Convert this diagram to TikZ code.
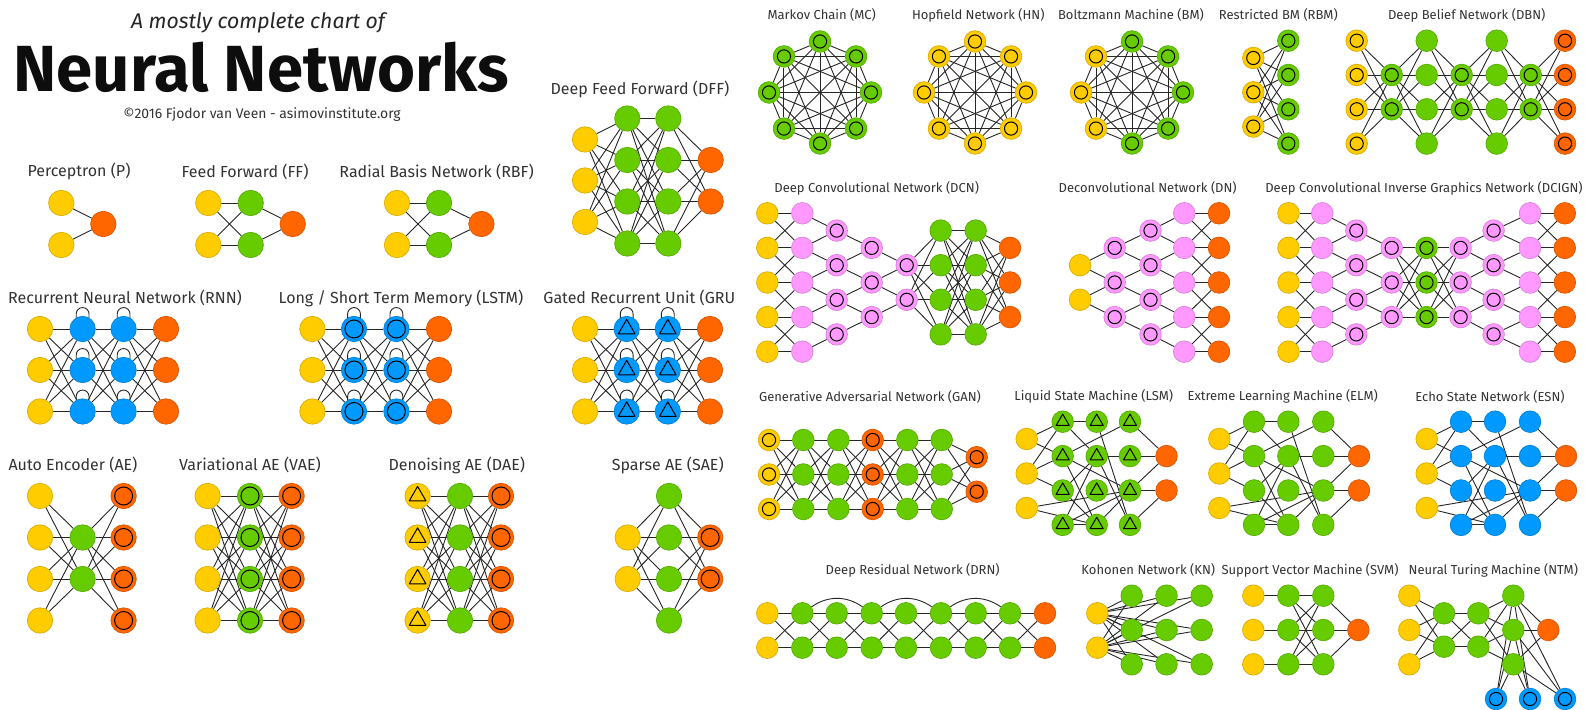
\documentclass[tikz,border=0pt]{standalone}
\usepackage{fontspec}
\setmainfont{Fira Sans}
\usetikzlibrary{calc}
\definecolor{InputClr}{RGB}{255,204,0}
\definecolor{HiddenClr}{RGB}{102,204,0}
\definecolor{OutputClr}{RGB}{255,102,0}
\definecolor{RecurrentClr}{RGB}{0,153,255}
\definecolor{KernelClr}{RGB}{255,153,255}
\pgfdeclarelayer{background}
\pgfsetlayers{background,main}

\def\cellsize{12.7pt}
\def\ringsize{4.5pt}
\def\trisize{4.8pt}

\tikzset{
  cell/.style={circle,inner sep=0pt,minimum size=\cellsize,line width=0.35pt},
  inputcell/.style={cell,fill=InputClr,draw=InputClr!85!black},
  hiddencell/.style={cell,fill=HiddenClr,draw=HiddenClr!85!black},
  outputcell/.style={cell,fill=OutputClr,draw=OutputClr!85!black},
  recurrentcell/.style={cell,fill=RecurrentClr,draw=RecurrentClr!85!black},
  kernelcell/.style={cell,fill=KernelClr,draw=KernelClr!85!black},
  ring/.style={path picture={\draw[black,line width=0.5pt]
      (path picture bounding box.center) circle (\ringsize);}},
  noisy/.style={path picture={\draw[black,line width=0.5pt,line join=round,
      shift={(path picture bounding box.center)}]
      (90:\trisize) -- (210:\trisize) -- (330:\trisize) -- cycle;}},
  link/.style={draw=black!85,line width=0.45pt},
  netname/.style={font=\fontsize{6.5}{7.5}\selectfont,text=black!80,inner sep=0pt},
  bignetname/.style={netname,font=\fontsize{8}{9}\selectfont}
}

% a column of cells: name, x, y list, style
\newcommand{\cells}[4]{%
  \foreach \yy [count=\k] in {#3} \node[#4] (#1-\k) at (#2,\yy) {};}
% every cell of one column to every cell of the next
\newcommand{\linkall}[4]{%
  \foreach \i in {1,...,#2}{\foreach \j in {1,...,#4}{\draw[link] (#1-\i) -- (#3-\j);}}}
% cell j of the narrow column to cells j and j+1 of the wide one
\newcommand{\linkfunnel}[3]{%
  \foreach \j in {1,...,#2}{%
    \pgfmathtruncatemacro{\jn}{\j+1}%
    \draw[link] (#1-\j) -- (#3-\j) (#1-\j) -- (#3-\jn);}}
% straight and crossed links between equal columns
\newcommand{\linknear}[3]{%
  \foreach \i in {1,...,#3}{%
    \draw[link] (#1-\i) -- (#2-\i);
    \ifnum\i<#3 \pgfmathtruncatemacro{\inx}{\i+1}%
      \draw[link] (#1-\i) -- (#2-\inx) (#1-\inx) -- (#2-\i);\fi}}
% all pairs in a ring of cells
\newcommand{\linkclique}[2]{%
  \foreach \i in {1,...,#2}{\foreach \j in {1,...,#2}{%
    \ifnum\i<\j \draw[link] (#1-\i) -- (#1-\j);\fi}}}
\newcommand{\selfloop}[1]{%
  \draw[link] ([xshift=-3.2pt,yshift=-1.5pt]#1.north) -- ++(0,2.5pt)
    arc[start angle=180,end angle=0,radius=3.2pt] -- ++(0,-2.5pt);}
% sparse reservoir wiring (LSM, ELM, ESN)
\newcommand{\reservoir}[1]{%
  \foreach \u/\v in {in-1/a-1,in-1/a-2,in-2/a-1,in-2/a-2,in-2/a-3,in-3/c-3,in-3/b-4,
      a-1/b-1,a-1/b-2,a-2/c-1,a-2/c-3,a-2/b-4,a-3/b-2,a-3/b-4,a-4/b-4,a-4/b-2,a-4/c-3,
      b-1/c-4,b-2/c-2,b-2/c-4,b-4/c-3,c-1/out-1,c-2/out-1,c-3/out-1,c-3/out-2,c-4/out-2}
    {\draw[link] (#1-\u) -- (#1-\v);}}

\begin{document}
\begin{tikzpicture}[x=0.5pt,y=-0.5pt]
\useasboundingbox (0,0) rectangle (1585,710);

% heading
\node[font=\fontsize{10.6}{12}\selectfont\itshape,text=black!85] (chart-sub) at (258,22.7) {A mostly complete chart of};
\node[font=\fontsize{32.6}{33}\selectfont\bfseries,text=black!95] (chart-title) at (261,67) {Neural Networks};
\node[font=\fontsize{6.95}{8}\selectfont,text=black!80] (chart-credit) at (262,115) {©2016 Fjodor van Veen - asimovinstitute.org};

% ---------- left half ----------
\node[bignetname] (lbl-p) at (79,171.7) {Perceptron (P)};
\node[bignetname] (lbl-ff) at (245,171.7) {Feed Forward (FF)};
\node[bignetname] (lbl-rbf) at (436.6,171.7) {Radial Basis Network (RBF)};
\node[bignetname] (lbl-dff) at (640,89) {Deep Feed Forward (DFF)};
\node[bignetname] (lbl-rnn) at (125,298.3) {Recurrent Neural Network (RNN)};
\node[bignetname] (lbl-lstm) at (401,298.3) {Long / Short Term Memory (LSTM)};
\node[bignetname,anchor=west] (lbl-gru) at (543,298.3) {Gated Recurrent Unit (GRU};
\node[bignetname] (lbl-ae) at (73,465) {Auto Encoder (AE)};
\node[bignetname] (lbl-vae) at (250,465) {Variational AE (VAE)};
\node[bignetname] (lbl-dae) at (456.8,465) {Denoising AE (DAE)};
\node[bignetname] (lbl-sae) at (667.8,465) {Sparse AE (SAE)};

\cells{p-in}{61.3}{203,245}{inputcell}
\cells{p-out}{103.3}{224}{outputcell}

\cells{ff-in}{208.3}{203,245}{inputcell}
\cells{ff-h}{250.7}{203,245}{hiddencell}
\cells{ff-out}{292.7}{224}{outputcell}

\cells{rbf-in}{397}{203,245}{inputcell}
\cells{rbf-h}{439}{203,245}{hiddencell}
\cells{rbf-out}{481.4}{224}{outputcell}

\cells{dff-in}{585}{139.5,180.5,222}{inputcell}
\cells{dff-h1}{627.3}{118.5,160,201.5,243.5}{hiddencell}
\cells{dff-h2}{668.3}{118.5,160,201.5,243.5}{hiddencell}
\cells{dff-out}{710.7}{160,201.5}{outputcell}

\cells{rnn-in}{40}{329,370,411.5}{inputcell}
\cells{rnn-h1}{82.6}{329,370,411.5}{recurrentcell}
\cells{rnn-h2}{123.6}{329,370,411.5}{recurrentcell}
\cells{rnn-out}{166}{329,370,411.5}{outputcell}

\cells{lstm-in}{312.4}{329,370,411.5}{inputcell}
\cells{lstm-h1}{354}{329,370,411.5}{recurrentcell,ring}
\cells{lstm-h2}{396.4}{329,370,411.5}{recurrentcell,ring}
\cells{lstm-out}{439}{329,370,411.5}{outputcell}

\cells{gru-in}{585}{329,370,411.5}{inputcell}
\cells{gru-h1}{626.7}{329,370,411.5}{recurrentcell,noisy}
\cells{gru-h2}{667.8}{329,370,411.5}{recurrentcell,noisy}
\cells{gru-out}{710}{329,370,411.5}{outputcell}

\cells{ae-in}{40}{496,537.5,579,620.5}{inputcell}
\cells{ae-h}{82.6}{537.5,579}{hiddencell}
\cells{ae-out}{123.6}{496,537.5,579,620.5}{outputcell,ring}

\cells{vae-in}{207.6}{496,537.5,579,620.5}{inputcell}
\cells{vae-h}{250}{496,537.5,579,620.5}{hiddencell,ring}
\cells{vae-out}{291.6}{496,537.5,579,620.5}{outputcell,ring}

\cells{dae-in}{417.6}{496,537.5,579,620.5}{inputcell,noisy}
\cells{dae-h}{460}{496,537.5,579,620.5}{hiddencell}
\cells{dae-out}{501}{496,537.5,579,620.5}{outputcell,ring}

\cells{sae-in}{627.7}{537.5,579}{inputcell}
\cells{sae-h}{669}{496,537.5,579,620.5}{hiddencell}
\cells{sae-out}{710.2}{537.5,579}{outputcell,ring}

% ---------- right half ----------
\def\cellsize{10.8pt}
\def\ringsize{3.3pt}
\def\trisize{3.8pt}

\node[netname] (lbl-mc) at (821.7,15) {Markov Chain (MC)};
\node[netname] (lbl-hn) at (978.3,15) {Hopfield Network (HN)};
\node[netname] (lbl-bm) at (1131,15) {Boltzmann Machine (BM)};
\node[netname] (lbl-rbm) at (1278.3,15) {Restricted BM (RBM)};
\node[netname] (lbl-dbn) at (1466.7,15) {Deep Belief Network (DBN)};
\node[netname] (lbl-dcn) at (876.7,188.3) {Deep Convolutional Network (DCN)};
\node[netname] (lbl-dn) at (1147.7,188.3) {Deconvolutional Network (DN)};
\node[netname] (lbl-dcign) at (1424,188.3) {Deep Convolutional Inverse Graphics Network (DCIGN)};
\node[netname] (lbl-gan) at (870,396.7) {Generative Adversarial Network (GAN)};
\node[netname] (lbl-lsm) at (1093.7,396.7) {Liquid State Machine (LSM)};
\node[netname] (lbl-elm) at (1282.7,396.7) {Extreme Learning Machine (ELM)};
\node[netname] (lbl-esn) at (1490,396.7) {Echo State Network (ESN)};
\node[netname] (lbl-drn) at (912.7,570) {Deep Residual Network (DRN)};
\node[netname] (lbl-kn) at (1148.3,570) {Kohonen Network (KN)};
\node[netname] (lbl-svm) at (1310,570) {Support Vector Machine (SVM)};
\node[netname] (lbl-ntm) at (1493.3,570) {Neural Turing Machine (NTM)};

% rings of eight
\foreach \a [count=\k] in {-90,-45,0,45,90,135,180,-135}
  \node[hiddencell,ring] (mc-\k) at ($(820,92.5)+(\a:51)$) {};
\foreach \a [count=\k] in {-90,-45,0,45,90,135,180,-135}
  \node[inputcell,ring] (hn-\k) at ($(975,92.5)+(\a:51)$) {};
\foreach \a/\st [count=\k] in {-90/hiddencell,-45/hiddencell,0/hiddencell,45/hiddencell,
    90/hiddencell,135/inputcell,180/inputcell,-135/inputcell}
  \node[\st,ring] (bm-\k) at ($(1132,92.5)+(\a:51)$) {};

\cells{rbm-v}{1253.3}{58,92.3,126.6}{inputcell,ring}
\cells{rbm-h}{1288.3}{40.7,75,109.3,143.6}{hiddencell,ring}

\cells{dbn-c1}{1356.7}{40.7,75,109.3,143.6}{inputcell,ring}
\cells{dbn-c2}{1391.7}{75,109.3}{hiddencell,ring}
\cells{dbn-c3}{1426.7}{40.7,75,109.3,143.6}{hiddencell}
\cells{dbn-c4}{1461.7}{75,109.3}{hiddencell,ring}
\cells{dbn-c5}{1496.7}{40.7,75,109.3,143.6}{hiddencell}
\cells{dbn-c6}{1530.7}{75,109.3}{hiddencell,ring}
\cells{dbn-c7}{1565}{40.7,75,109.3,143.6}{outputcell,ring}

\cells{dcn-c1}{767.3}{213.3,247.9,282.5,317.1,351.7}{inputcell}
\cells{dcn-c2}{802.3}{213.3,247.9,282.5,317.1,351.7}{kernelcell}
\cells{dcn-c3}{836.7}{230.6,265.2,299.8,334.4}{kernelcell,ring}
\cells{dcn-c4}{871.7}{247.9,282.5,317.1}{kernelcell,ring}
\cells{dcn-c5}{906.7}{265.2,299.8}{kernelcell,ring}
\cells{dcn-c6}{940.7}{230.6,265.2,299.8,334.4}{hiddencell}
\cells{dcn-c7}{975.7}{230.6,265.2,299.8,334.4}{hiddencell}
\cells{dcn-c8}{1010}{247.9,282.5,317.1}{outputcell}

\cells{dn-c1}{1080}{265.2,299.8}{inputcell}
\cells{dn-c2}{1114.7}{247.9,282.5,317.1}{kernelcell,ring}
\cells{dn-c3}{1150.5}{230.6,265.2,299.8,334.4}{kernelcell,ring}
\cells{dn-c4}{1184.2}{213.3,247.9,282.5,317.1,351.7}{kernelcell}
\cells{dn-c5}{1219}{213.3,247.9,282.5,317.1,351.7}{outputcell}

\cells{dcign-c1}{1288.5}{213.3,247.9,282.5,317.1,351.7}{inputcell}
\cells{dcign-c2}{1322.2}{213.3,247.9,282.5,317.1,351.7}{kernelcell}
\cells{dcign-c3}{1356.3}{230.6,265.2,299.8,334.4}{kernelcell,ring}
\cells{dcign-c4}{1391.7}{247.9,282.5,317.1}{kernelcell,ring}
\cells{dcign-c5}{1426.5}{247.9,282.5,317.1}{hiddencell,ring}
\cells{dcign-c6}{1460.6}{247.9,282.5,317.1}{kernelcell,ring}
\cells{dcign-c7}{1493.6}{230.6,265.2,299.8,334.4}{kernelcell,ring}
\cells{dcign-c8}{1530}{213.3,247.9,282.5,317.1,351.7}{kernelcell}
\cells{dcign-c9}{1564.8}{213.3,247.9,282.5,317.1,351.7}{outputcell}

\cells{gan-c1}{769}{440,474.5,509}{inputcell,ring}
\cells{gan-c2}{803.3}{440,474.5,509}{hiddencell}
\cells{gan-c3}{838.3}{440,474.5,509}{hiddencell}
\cells{gan-c4}{872.7}{440,474.5,509}{outputcell,ring}
\cells{gan-c5}{907.3}{440,474.5,509}{hiddencell}
\cells{gan-c6}{941.7}{440,474.5,509}{hiddencell}
\cells{gan-c7}{976.7}{457.2,491.7}{outputcell,ring}

\cells{lsm-in}{1026.7}{439,473.5,508}{inputcell}
\cells{lsm-a}{1062.7}{421.7,456.1,490.5,524.9}{hiddencell,noisy}
\cells{lsm-b}{1096.7}{421.7,456.1,490.5,524.9}{hiddencell,noisy}
\cells{lsm-c}{1130}{421.7,456.1,490.5,524.9}{hiddencell,noisy}
\cells{lsm-out}{1166.5}{456.1,490.5}{outputcell}

\cells{elm-in}{1219.3}{439,473.5,508}{inputcell}
\cells{elm-a}{1254}{421.7,456.1,490.5,524.9}{hiddencell}
\cells{elm-b}{1288.3}{421.7,456.1,490.5,524.9}{hiddencell}
\cells{elm-c}{1323.3}{421.7,456.1,490.5,524.9}{hiddencell}
\cells{elm-out}{1359}{456.1,490.5}{outputcell}

\cells{esn-in}{1426.7}{439,473.5,508}{inputcell}
\cells{esn-a}{1461}{421.7,456.1,490.5,524.9}{recurrentcell}
\cells{esn-b}{1495}{421.7,456.1,490.5,524.9}{recurrentcell}
\cells{esn-c}{1530}{421.7,456.1,490.5,524.9}{recurrentcell}
\cells{esn-out}{1566}{456.1,490.5}{outputcell}

\foreach \xx/\st [count=\c] in {767.3/inputcell,802.3/hiddencell,836.7/hiddencell,
    871.7/hiddencell,906/hiddencell,941/hiddencell,975.7/hiddencell,1010/hiddencell,1045/outputcell}
  {\cells{drn-\c}{\xx}{613.3,647.7}{\st}}

\cells{kn-in}{1097.3}{613.3,647.7}{inputcell}
\cells{kn-a}{1131.7}{595.7,630,664.3}{hiddencell}
\cells{kn-b}{1166.5}{595.7,630,664.3}{hiddencell}
\cells{kn-c}{1201.7}{595.7,630,664.3}{hiddencell}

\cells{svm-in}{1253.3}{595.7,630,664.3}{inputcell}
\cells{svm-h1}{1288.3}{595.7,630,664.3}{hiddencell}
\cells{svm-h2}{1323.3}{595.7,630,664.3}{hiddencell}
\cells{svm-out}{1358.3}{630}{outputcell}

\cells{ntm-in}{1409.3}{595.7,630,664.3}{inputcell}
\cells{ntm-a}{1444}{613.3,646.7}{hiddencell}
\cells{ntm-b}{1478.3}{613.3,646.7}{hiddencell}
\cells{ntm-c}{1513.3}{595.7,630,664.3}{hiddencell}
\cells{ntm-out}{1548.3}{630}{outputcell}
\foreach \xx [count=\k] in {1496,1530,1565}
  \node[recurrentcell,ring] (ntm-mem-\k) at (\xx,699) {};

% ---------- connections ----------
\begin{pgfonlayer}{background}
\fill[white] (0,0) rectangle (1585,710);

\linkall{p-in}{2}{p-out}{1}
\linkall{ff-in}{2}{ff-h}{2}  \linkall{ff-h}{2}{ff-out}{1}
\linkall{rbf-in}{2}{rbf-h}{2}  \linkall{rbf-h}{2}{rbf-out}{1}
\linkall{dff-in}{3}{dff-h1}{4}  \linkall{dff-h1}{4}{dff-h2}{4}  \linkall{dff-h2}{4}{dff-out}{2}

\foreach \net in {rnn,lstm,gru}{%
  \linkall{\net-in}{3}{\net-h1}{3}
  \linkall{\net-h1}{3}{\net-h2}{3}
  \linkall{\net-h2}{3}{\net-out}{3}
  \foreach \k in {1,2,3}{\selfloop{\net-h1-\k}\selfloop{\net-h2-\k}}}

\linkall{ae-in}{4}{ae-h}{2}  \linkall{ae-h}{2}{ae-out}{4}
\linkall{vae-in}{4}{vae-h}{4}  \linkall{vae-h}{4}{vae-out}{4}
\linkall{dae-in}{4}{dae-h}{4}  \linkall{dae-h}{4}{dae-out}{4}
\linkall{sae-in}{2}{sae-h}{4}  \linkall{sae-h}{4}{sae-out}{2}

\linkclique{mc}{8}  \linkclique{hn}{8}  \linkclique{bm}{8}
\linkall{rbm-v}{3}{rbm-h}{4}
\linkall{dbn-c1}{4}{dbn-c2}{2}  \linkall{dbn-c2}{2}{dbn-c3}{4}
\linkall{dbn-c3}{4}{dbn-c4}{2}  \linkall{dbn-c4}{2}{dbn-c5}{4}
\linkall{dbn-c5}{4}{dbn-c6}{2}  \linkall{dbn-c6}{2}{dbn-c7}{4}

\linknear{dcn-c1}{dcn-c2}{5}
\linkfunnel{dcn-c3}{4}{dcn-c2}  \linkfunnel{dcn-c4}{3}{dcn-c3}  \linkfunnel{dcn-c5}{2}{dcn-c4}
\linkall{dcn-c5}{2}{dcn-c6}{4}  \linkall{dcn-c6}{4}{dcn-c7}{4}  \linkall{dcn-c7}{4}{dcn-c8}{3}

\linkfunnel{dn-c1}{2}{dn-c2}  \linkfunnel{dn-c2}{3}{dn-c3}  \linkfunnel{dn-c3}{4}{dn-c4}
\linknear{dn-c4}{dn-c5}{5}

\linknear{dcign-c1}{dcign-c2}{5}
\linkfunnel{dcign-c3}{4}{dcign-c2}  \linkfunnel{dcign-c4}{3}{dcign-c3}
\linkall{dcign-c4}{3}{dcign-c5}{3}  \linkall{dcign-c5}{3}{dcign-c6}{3}
\linkfunnel{dcign-c6}{3}{dcign-c7}  \linkfunnel{dcign-c7}{4}{dcign-c8}
\linknear{dcign-c8}{dcign-c9}{5}

\linkall{gan-c1}{3}{gan-c2}{3}  \linkall{gan-c2}{3}{gan-c3}{3}  \linkall{gan-c3}{3}{gan-c4}{3}
\linkall{gan-c4}{3}{gan-c5}{3}  \linkall{gan-c5}{3}{gan-c6}{3}  \linkall{gan-c6}{3}{gan-c7}{2}

\reservoir{lsm}  \reservoir{elm}  \reservoir{esn}

\foreach \c in {1,...,8}{%
  \pgfmathtruncatemacro{\cn}{\c+1}%
  \linkall{drn-\c}{2}{drn-\cn}{2}}
\foreach \c in {2,4,6}{%
  \pgfmathtruncatemacro{\cn}{\c+2}%
  \draw[link] (drn-\c-1) to[bend left=35] (drn-\cn-1);}

\linkall{kn-in}{2}{kn-a}{3}  \linkall{kn-in}{2}{kn-b}{3}  \linkall{kn-in}{2}{kn-c}{3}

\foreach \k in {1,2,3}{\draw[link] (svm-in-\k) -- (svm-h1-\k);}
\linkall{svm-h1}{3}{svm-h2}{3}  \linkall{svm-h2}{3}{svm-out}{1}

\linkall{ntm-in}{3}{ntm-a}{2}  \linkall{ntm-a}{2}{ntm-b}{2}  \linkall{ntm-b}{2}{ntm-c}{3}
\linkall{ntm-c}{3}{ntm-out}{1}  \linkall{ntm-c}{3}{ntm-mem}{3}
\end{pgfonlayer}
\end{tikzpicture}
\end{document}
